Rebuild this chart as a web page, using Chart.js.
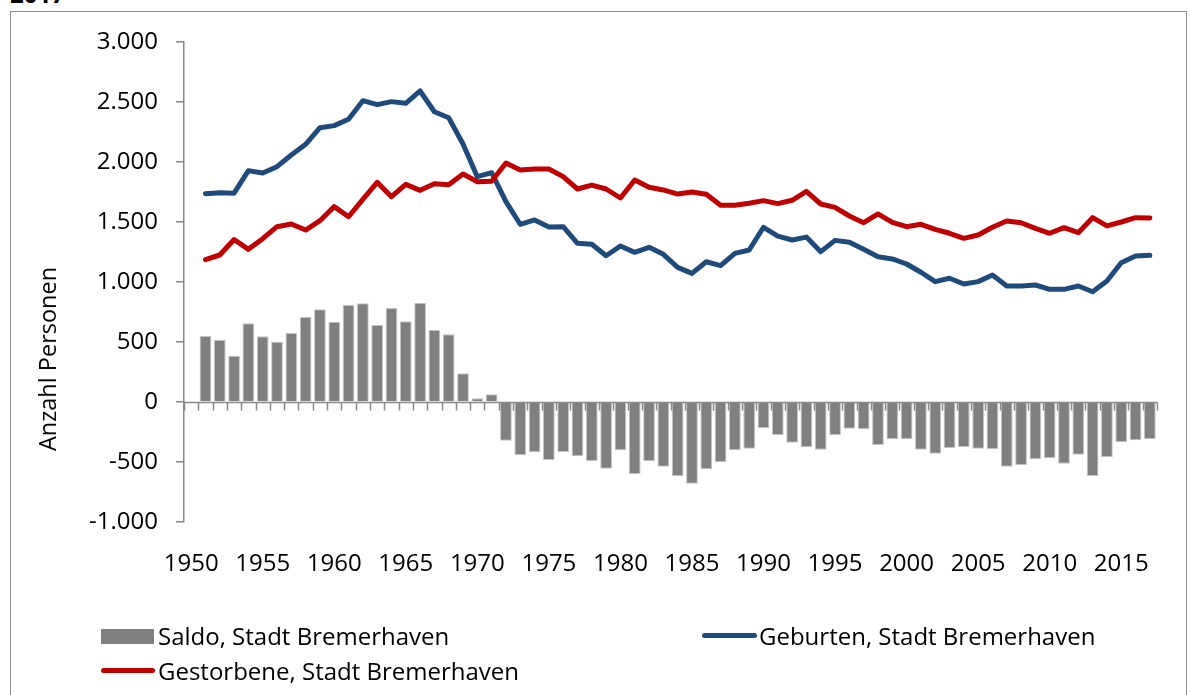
<!DOCTYPE html>
<html>
<head>
<meta charset="utf-8">
<script src="https://cdn.jsdelivr.net/npm/chart.js@4/dist/chart.umd.min.js"></script>
<style>
   html, body { margin: 0; padding: 0; background: #fff; overflow: hidden; }
   body { width: 1190px; height: 695px; position: relative; font-family: "Open Sans", sans-serif; color: #000; }
   #frame { position: absolute; left: 10px; top: 11px; width: 1177px; height: 720px; border: 1.5px solid #8c8c8c; box-sizing: border-box; }
   #chart { position: absolute; left: 0; top: 0; }
   #heading { position: absolute; left: 10px; top: -18px; font-size: 24px; line-height: 24px; font-weight: bold; }
   #ytitle { position: absolute; left: 47px; top: 359px; font-size: 23.5px; line-height: 24px; white-space: nowrap;
             transform: translate(-50%, -50%) rotate(-90deg); }
   .leg { position: absolute; font-size: 24px; line-height: 24px; white-space: nowrap; }
   .swatch { position: absolute; }
</style>
</head>
<body>
<div id="frame"></div>
<div id="heading">2017</div>
<canvas id="chart" width="1190" height="695"></canvas>
<div id="ytitle">Anzahl Personen</div>

<div class="swatch" style="left:101px; top:629px; width:53px; height:15px; background:#808080;"></div>
<div class="leg" style="left:158px; top:624px;">Saldo, Stadt Bremerhaven</div>
<div class="swatch" style="left:702px; top:633px; width:55px; height:5px; border-radius:3px; background:#1f4a7c;"></div>
<div class="leg" style="left:759px; top:624px;">Geburten, Stadt Bremerhaven</div>
<div class="swatch" style="left:101px; top:668px; width:54px; height:5px; border-radius:3px; background:#c00000;"></div>
<div class="leg" style="left:158px; top:659px;">Gestorbene, Stadt Bremerhaven</div>

<script>
// years on the category axis (1950 has no data)
var years = [];
for (var yr = 1950; yr <= 2017; yr++) years.push(yr);

var saldo = [null,
   550, 519, 386, 656, 547, 503, 575, 708, 772, 669,
   811, 822, 642, 783, 672, 828, 600, 564, 239, 31,
   64, -322, -444, -419, -483, -417, -453, -492, -556, -403,
   -600, -494, -539, -619, -681, -561, -503, -403, -389, -219,
   -275, -339, -378, -397, -275, -222, -228, -358, -311, -311,
   -397, -431, -383, -375, -389, -394, -539, -525, -478, -469,
   -514, -439, -617, -458, -333, -319, -311];

var geburten = [null,
   1736, 1744, 1740, 1928, 1908, 1961, 2058, 2147, 2286, 2303,
   2356, 2511, 2478, 2503, 2489, 2592, 2419, 2369, 2150, 1878,
   1911, 1670, 1481, 1517, 1458, 1461, 1322, 1314, 1219, 1300,
   1247, 1289, 1231, 1122, 1072, 1169, 1136, 1239, 1267, 1456,
   1383, 1350, 1374, 1253, 1347, 1331, 1272, 1211, 1192, 1150,
   1081, 1003, 1031, 983, 1003, 1058, 967, 967, 975, 939,
   939, 967, 919, 1008, 1161, 1217, 1222];

var gestorbene = [null,
   1186, 1225, 1354, 1272, 1361, 1461, 1483, 1433, 1511, 1628,
   1544, 1689, 1831, 1711, 1814, 1764, 1819, 1811, 1900, 1836,
   1839, 1992, 1933, 1942, 1942, 1878, 1775, 1808, 1775, 1700,
   1850, 1789, 1767, 1733, 1750, 1731, 1639, 1639, 1656, 1678,
   1653, 1681, 1755, 1650, 1622, 1550, 1494, 1567, 1497, 1461,
   1481, 1439, 1406, 1364, 1392, 1456, 1508, 1494, 1447, 1406,
   1453, 1411, 1536, 1467, 1500, 1536, 1533];

var yTicks = [-1000, -500, 0, 500, 1000, 1500, 2000, 2500, 3000];

var AXIS_GREY = '#898989';
var FONT = { family: '"Open Sans", sans-serif', size: 24 };

function formatDe(v) {
   var s = String(Math.abs(v)).replace(/\B(?=(\d{3})+(?!\d))/g, '.');
   return (v < 0 ? '-' : '') + s;
}

// horizontal axis line at zero with tick marks between categories
var zeroAxis = {
   id: 'zeroAxis',
   afterDatasetsDraw: function(chart) {
      var ctx = chart.ctx, xs = chart.scales.x, ys = chart.scales.y;
      var y0 = Math.round(ys.getPixelForValue(0)) + 0.5;
      var step = xs.getPixelForValue(1) - xs.getPixelForValue(0);
      ctx.save();
      ctx.strokeStyle = AXIS_GREY;
      ctx.lineWidth = 1.5;
      ctx.beginPath();
      ctx.moveTo(chart.chartArea.left, y0);
      ctx.lineTo(chart.chartArea.right, y0);
      for (var i = 0; i <= years.length; i++) {
         var x = Math.round(xs.getPixelForValue(0) - step / 2 + i * step) + 0.5;
         ctx.moveTo(x, y0);
         ctx.lineTo(x, y0 + 8);
      }
      ctx.stroke();
      ctx.restore();
   }
};

new Chart(document.getElementById('chart'), {
   type: 'bar',
   data: {
      labels: years,
      datasets: [{
         type: 'line',
         label: 'Gestorbene, Stadt Bremerhaven',
         data: gestorbene,
         borderColor: '#c00000',
         borderWidth: 5,
         pointRadius: 0,
         borderCapStyle: 'round',
         borderJoinStyle: 'round',
         order: 0
      }, {
         type: 'line',
         label: 'Geburten, Stadt Bremerhaven',
         data: geburten,
         borderColor: '#1f4a7c',
         borderWidth: 5,
         pointRadius: 0,
         borderCapStyle: 'round',
         borderJoinStyle: 'round',
         order: 1
      }, {
         label: 'Saldo, Stadt Bremerhaven',
         data: saldo,
         backgroundColor: '#808080',
         borderColor: '#c4c4c4',
         borderWidth: 1,
         barPercentage: 0.82,
         categoryPercentage: 1,
         order: 2
      }]
   },
   options: {
      responsive: false,
      animation: false,
      devicePixelRatio: 1,
      layout: { padding: { left: 0, top: 42, right: 33, bottom: 0 } },
      plugins: {
         legend: { display: false },
         tooltip: { enabled: false }
      },
      scales: {
         x: {
            offset: true,
            grid: { display: false },
            border: { display: false },
            ticks: {
               autoSkip: false,
               maxRotation: 0,
               padding: 20,
               color: '#000',
               font: FONT,
               callback: function(val, idx) {
                  var y = years[idx];
                  return y % 5 === 0 ? String(y) : '';
               }
            },
            afterFit: function(scale) { scale.height = 173; }
         },
         y: {
            min: yTicks[0],
            max: yTicks[yTicks.length - 1],
            grid: { drawOnChartArea: false, drawTicks: true, tickLength: 8, color: AXIS_GREY, lineWidth: 1.5 },
            border: { display: true, color: AXIS_GREY, width: 1.5 },
            ticks: {
               stepSize: 500,
               padding: 18,
               color: '#000',
               font: FONT,
               callback: function(v) { return formatDe(v); }
            },
            afterFit: function(scale) { scale.width = 184; }
         }
      }
   },
   plugins: [zeroAxis]
});
</script>
</body>
</html>
